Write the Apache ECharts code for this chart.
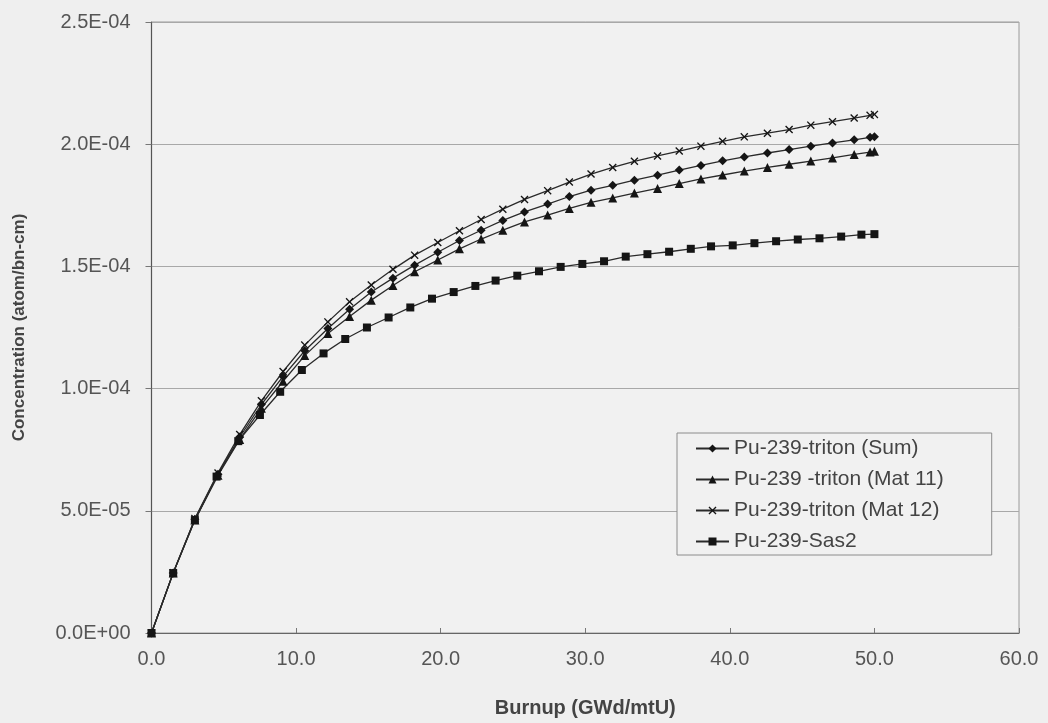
<!DOCTYPE html>
<html>
<head>
<meta charset="utf-8">
<script src="https://cdn.jsdelivr.net/npm/echarts@6/dist/echarts.min.js"></script>
<style>
html,body{margin:0;padding:0;background:#efefef;}
#chart{width:1048px;height:723px;}
</style>
</head>
<body>
<div id="chart"></div>
<script>
// Burnup (GWd/mtU) sample points
var tritonBurnup = [0, 1.5, 3.0, 4.6, 6.1, 7.6, 9.1, 10.6, 12.2, 13.7, 15.2, 16.7, 18.2, 19.8, 21.3, 22.8, 24.3, 25.8, 27.4, 28.9, 30.4, 31.9, 33.4, 35.0, 36.5, 38.0, 39.5, 41.0, 42.6, 44.1, 45.6, 47.1, 48.6, 49.7, 50.0];
var sas2Burnup = [0, 1.5, 3.0, 4.5, 6.0, 7.5, 8.9, 10.4, 11.9, 13.4, 14.9, 16.4, 17.9, 19.4, 20.9, 22.4, 23.8, 25.3, 26.8, 28.3, 29.8, 31.3, 32.8, 34.3, 35.8, 37.3, 38.7, 40.2, 41.7, 43.2, 44.7, 46.2, 47.7, 49.1, 50.0];

// Concentrations (atom/bn-cm)
var tritonSum = [0, 2.46e-5, 4.65e-5, 6.50e-5, 8.02e-5, 9.35e-5, 1.050e-4, 1.155e-4, 1.246e-4, 1.325e-4, 1.395e-4, 1.452e-4, 1.505e-4, 1.558e-4, 1.606e-4, 1.648e-4, 1.688e-4, 1.723e-4, 1.755e-4, 1.786e-4, 1.812e-4, 1.832e-4, 1.853e-4, 1.873e-4, 1.894e-4, 1.913e-4, 1.932e-4, 1.948e-4, 1.964e-4, 1.978e-4, 1.992e-4, 2.005e-4, 2.018e-4, 2.028e-4, 2.030e-4];
var tritonMat11 = [0, 2.45e-5, 4.62e-5, 6.45e-5, 7.92e-5, 9.20e-5, 1.030e-4, 1.135e-4, 1.225e-4, 1.295e-4, 1.362e-4, 1.422e-4, 1.478e-4, 1.526e-4, 1.572e-4, 1.612e-4, 1.648e-4, 1.682e-4, 1.710e-4, 1.737e-4, 1.762e-4, 1.780e-4, 1.800e-4, 1.819e-4, 1.839e-4, 1.858e-4, 1.874e-4, 1.890e-4, 1.905e-4, 1.918e-4, 1.931e-4, 1.944e-4, 1.958e-4, 1.968e-4, 1.971e-4];
var tritonMat12 = [0, 2.47e-5, 4.68e-5, 6.55e-5, 8.12e-5, 9.50e-5, 1.070e-4, 1.178e-4, 1.273e-4, 1.355e-4, 1.424e-4, 1.488e-4, 1.546e-4, 1.598e-4, 1.646e-4, 1.692e-4, 1.734e-4, 1.774e-4, 1.810e-4, 1.845e-4, 1.878e-4, 1.905e-4, 1.930e-4, 1.952e-4, 1.972e-4, 1.992e-4, 2.012e-4, 2.030e-4, 2.045e-4, 2.060e-4, 2.078e-4, 2.092e-4, 2.107e-4, 2.118e-4, 2.122e-4];
var sas2 = [0, 2.45e-5, 4.62e-5, 6.40e-5, 7.85e-5, 8.92e-5, 9.87e-5, 1.076e-4, 1.144e-4, 1.203e-4, 1.250e-4, 1.291e-4, 1.332e-4, 1.368e-4, 1.395e-4, 1.420e-4, 1.442e-4, 1.462e-4, 1.480e-4, 1.498e-4, 1.510e-4, 1.521e-4, 1.540e-4, 1.550e-4, 1.560e-4, 1.572e-4, 1.582e-4, 1.586e-4, 1.595e-4, 1.603e-4, 1.610e-4, 1.615e-4, 1.622e-4, 1.630e-4, 1.632e-4];

var seriesNames = ['Pu-239-triton (Sum)', 'Pu-239 -triton (Mat 11)', 'Pu-239-triton (Mat 12)', 'Pu-239-Sas2'];
var xAxisTitle = 'Burnup (GWd/mtU)';
var yAxisTitle = 'Concentration (atom/bn-cm)';

function pairs(xs, ys){ return xs.map(function(x, i){ return [x, ys[i]]; }); }
function sciLabel(v){
  if (Math.abs(v) < 1e-12) return '0.0E+00';
  var e = Math.floor(Math.log10(Math.abs(v)) + 1e-9);
  var s = (v / Math.pow(10, e)).toFixed(1);
  if (s === '10.0') { s = '1.0'; e += 1; }
  return s + 'E' + (e < 0 ? '-' : '+') + String(Math.abs(e)).padStart(2, '0');
}

var FONT = 'Liberation Sans, Arial, sans-serif';
var LINE = '#2a2a2a';
var MARK = '#151515';
var xSymbol = 'path://M0,1.2 L1.2,0 L5,3.8 L8.8,0 L10,1.2 L6.2,5 L10,8.8 L8.8,10 L5,6.2 L1.2,10 L0,8.8 L3.8,5 Z';

function mkSeries(name, data, symbol, size){
  return {
    name: name, type: 'line', data: data, symbol: symbol, symbolSize: size,
    showAllSymbol: true, smooth: false,
    lineStyle: {color: LINE, width: 1.3},
    itemStyle: {color: MARK, borderWidth: 0},
    emphasis: {disabled: true}, animation: false, z: 3
  };
}

var chart = echarts.init(document.getElementById('chart'));
chart.setOption({
  backgroundColor: '#efefef',
  animation: false,
  textStyle: {fontFamily: FONT},
  grid: {left: 151.5, right: 29, top: 22, bottom: 90, show: true, borderColor: '#9a9a9a', borderWidth: 1, backgroundColor: '#f1f1f1', containLabel: false},
  legend: {
    orient: 'vertical', left: 677, top: 433,
    data: seriesNames,
    backgroundColor: '#f1f1f1', borderColor: '#8c8c8c', borderWidth: 1,
    padding: [5, 48, 3, 18], itemGap: 10, itemWidth: 33, itemHeight: 10,
    textStyle: {fontFamily: FONT, fontSize: 21, color: '#444'}
  },
  xAxis: {
    type: 'value', min: 0, max: 60, interval: 10,
    name: xAxisTitle, nameLocation: 'middle', nameGap: 65,
    nameTextStyle: {fontFamily: FONT, fontSize: 20, fontWeight: 'bold', color: '#444'},
    axisLine: {show: true, onZero: false, lineStyle: {color: '#666', width: 1.2}},
    axisTick: {show: true, inside: true, length: 5, lineStyle: {color: '#777'}},
    axisLabel: {fontFamily: FONT, fontSize: 20, color: '#555', margin: 16, formatter: function(v){ return v.toFixed(1); }},
    splitLine: {show: false}
  },
  yAxis: {
    type: 'value', min: 0, max: 2.5e-4, interval: 5e-5,
    name: yAxisTitle, nameLocation: 'middle', nameGap: 124, nameRotate: 90,
    nameTextStyle: {fontFamily: FONT, fontSize: 17, fontWeight: 'bold', color: '#444'},
    axisLine: {show: true, lineStyle: {color: '#555', width: 1.2}},
    axisTick: {show: true, inside: false, length: 6, lineStyle: {color: '#777'}},
    axisLabel: {fontFamily: FONT, fontSize: 20, color: '#555', margin: 21, formatter: sciLabel},
    splitLine: {show: true, lineStyle: {color: '#a8a8a8', width: 1.2}}
  },
  series: [
    mkSeries(seriesNames[0], pairs(tritonBurnup, tritonSum), 'diamond', 9),
    mkSeries(seriesNames[1], pairs(tritonBurnup, tritonMat11), 'triangle', 9),
    mkSeries(seriesNames[2], pairs(tritonBurnup, tritonMat12), xSymbol, 8),
    mkSeries(seriesNames[3], pairs(sas2Burnup, sas2), 'rect', 8)
  ]
});
</script>
</body>
</html>
